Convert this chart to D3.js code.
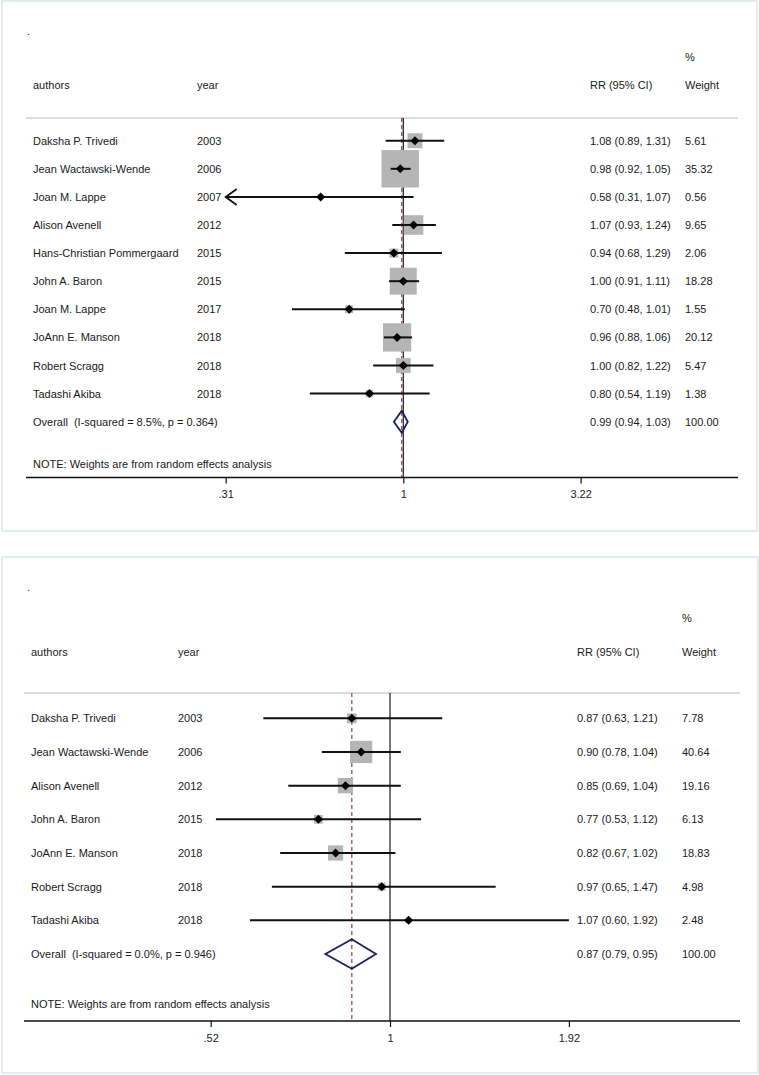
<!DOCTYPE html>
<html>
<head>
<meta charset="utf-8">
<script src="https://cdn.jsdelivr.net/npm/d3@7/dist/d3.min.js"></script>
<style>
  html, body { margin: 0; padding: 0; background: #ffffff; }
  svg { display: block; }
  text { font-family: "Liberation Sans", Arial, sans-serif; font-size: 11px; fill: #1a1a1a; white-space: pre; }
</style>
</head>
<body>
<svg id="chart" width="759" height="1075"></svg>
<script>
// ---------- Panel 1 data ----------
const authors1 = ["Daksha P. Trivedi", "Jean Wactawski-Wende", "Joan M. Lappe", "Alison Avenell",
  "Hans-Christian Pommergaard", "John A. Baron", "Joan M. Lappe", "JoAnn E. Manson", "Robert Scragg", "Tadashi Akiba"];
const years1 = ["2003", "2006", "2007", "2012", "2015", "2015", "2017", "2018", "2018", "2018"];
const rr1 = [1.08, 0.98, 0.58, 1.07, 0.94, 1.00, 0.70, 0.96, 1.00, 0.80];
const lo1 = [0.89, 0.92, 0.31, 0.93, 0.68, 0.91, 0.48, 0.88, 0.82, 0.54];
const hi1 = [1.31, 1.05, 1.07, 1.24, 1.29, 1.11, 1.01, 1.06, 1.22, 1.19];
const weight1 = [5.61, 35.32, 0.56, 9.65, 2.06, 18.28, 1.55, 20.12, 5.47, 1.38];
const overall1 = { label: "Overall  (I-squared = 8.5%, p = 0.364)", rr: 0.99, lo: 0.94, hi: 1.03, weight: 100.00 };
const ticks1 = [0.31, 1, 3.22];
const tickLabels1 = [".31", "1", "3.22"];

// ---------- Panel 2 data ----------
const authors2 = ["Daksha P. Trivedi", "Jean Wactawski-Wende", "Alison Avenell", "John A. Baron",
  "JoAnn E. Manson", "Robert Scragg", "Tadashi Akiba"];
const years2 = ["2003", "2006", "2012", "2015", "2018", "2018", "2018"];
const rr2 = [0.87, 0.90, 0.85, 0.77, 0.82, 0.97, 1.07];
const lo2 = [0.63, 0.78, 0.69, 0.53, 0.67, 0.65, 0.60];
const hi2 = [1.21, 1.04, 1.04, 1.12, 1.02, 1.47, 1.92];
const weight2 = [7.78, 40.64, 19.16, 6.13, 18.83, 4.98, 2.48];
const overall2 = { label: "Overall  (I-squared = 0.0%, p = 0.946)", rr: 0.87, lo: 0.79, hi: 0.95, weight: 100.00 };
const ticks2 = [0.52, 1, 1.92];
const tickLabels2 = [".52", "1", "1.92"];

const note = "NOTE: Weights are from random effects analysis";

const svg = d3.select("#chart");

function drawPanel(cfg) {
  const g = svg.append("g");
  const L = cfg.layout;
  // frame
  g.append("rect").attr("x", L.frame[0]).attr("y", L.frame[1])
    .attr("width", L.frame[2]).attr("height", L.frame[3])
    .attr("fill", "#ffffff").attr("stroke", "#e4ecef").attr("stroke-width", 2);

  const x = d3.scaleLog().domain([cfg.ticks[0], cfg.ticks[cfg.ticks.length - 1]]).range(L.xRange);
  const nRows = cfg.authors.length + 1;
  const y = d3.scalePoint().domain(d3.range(nRows)).range(L.yRange);

  // header
  g.append("text").attr("x", L.dotX).attr("y", L.dotY).text(".");
  g.append("text").attr("x", L.weightX).attr("y", L.pctY).text("%");
  g.append("text").attr("x", L.authorX).attr("y", L.headY).text("authors");
  g.append("text").attr("x", L.yearX).attr("y", L.headY).text("year");
  g.append("text").attr("x", L.rrX).attr("y", L.headY).text("RR (95% CI)");
  g.append("text").attr("x", L.weightX).attr("y", L.headY).text("Weight");
  g.append("line").attr("x1", L.lineX[0]).attr("x2", L.lineX[1])
    .attr("y1", L.headLineY).attr("y2", L.headLineY)
    .attr("stroke", "#cfcfcf").attr("stroke-width", 1.5);

  // reference lines
  g.append("line").attr("x1", x(1)).attr("x2", x(1))
    .attr("y1", L.headLineY).attr("y2", L.axisY)
    .attr("stroke", "#1a1a1a").attr("stroke-width", 1.2);
  g.append("line").attr("x1", x(cfg.overall.rr)).attr("x2", x(cfg.overall.rr))
    .attr("y1", L.headLineY).attr("y2", L.axisY)
    .attr("stroke", "#8e3b4c").attr("stroke-width", 1.2).attr("stroke-dasharray", "4,3");

  const rows = cfg.authors.map((a, i) => ({
    author: a, year: cfg.years[i], rr: cfg.rr[i], lo: cfg.lo[i], hi: cfg.hi[i], w: cfg.weight[i], i
  }));
  const xmin = cfg.ticks[0];

  // boxes
  g.selectAll(".box").data(rows).enter().append("rect")
    .attr("x", d => x(d.rr) - L.boxK * Math.sqrt(d.w) / 2)
    .attr("y", d => y(d.i) - L.boxK * Math.sqrt(d.w) / 2)
    .attr("width", d => L.boxK * Math.sqrt(d.w))
    .attr("height", d => L.boxK * Math.sqrt(d.w))
    .attr("fill", "#b5b5b5");

  // CI lines
  g.selectAll(".ci").data(rows).enter().append("line")
    .attr("x1", d => x(Math.max(d.lo, xmin))).attr("x2", d => x(d.hi))
    .attr("y1", d => y(d.i)).attr("y2", d => y(d.i))
    .attr("stroke", "#111").attr("stroke-width", 2);

  // arrows for truncated CIs
  rows.filter(d => d.lo <= xmin).forEach(d => {
    const ax = x(xmin), ay = y(d.i);
    g.append("path")
      .attr("d", `M${ax + 11},${ay - 8} L${ax},${ay} L${ax + 11},${ay + 8}`)
      .attr("fill", "none").attr("stroke", "#111").attr("stroke-width", 1.8);
  });

  // point markers
  g.selectAll(".pt").data(rows).enter().append("path")
    .attr("transform", d => `translate(${x(d.rr)},${y(d.i)})`)
    .attr("d", "M0,-4.5 L4.5,0 L0,4.5 L-4.5,0 Z")
    .attr("fill", "#000");

  // overall diamond
  const oy = y(nRows - 1), o = cfg.overall;
  g.append("path")
    .attr("d", `M${x(o.lo)},${oy} L${x(o.rr)},${oy - L.diaH} L${x(o.hi)},${oy} L${x(o.rr)},${oy + L.diaH} Z`)
    .attr("fill", "none").attr("stroke", "#1c1f5e").attr("stroke-width", 1.8);

  // text columns
  const fmt = v => v.toFixed(2);
  rows.forEach(d => {
    const ty = y(d.i) + 4;
    g.append("text").attr("x", L.authorX).attr("y", ty).text(d.author);
    g.append("text").attr("x", L.yearX).attr("y", ty).text(d.year);
    g.append("text").attr("x", L.rrX).attr("y", ty).text(`${fmt(d.rr)} (${fmt(d.lo)}, ${fmt(d.hi)})`);
    g.append("text").attr("x", L.weightX).attr("y", ty).text(fmt(d.w));
  });
  g.append("text").attr("x", L.authorX).attr("y", oy + 4).text(o.label);
  g.append("text").attr("x", L.rrX).attr("y", oy + 4).text(`${fmt(o.rr)} (${fmt(o.lo)}, ${fmt(o.hi)})`);
  g.append("text").attr("x", L.weightX).attr("y", oy + 4).text(fmt(o.weight));

  g.append("text").attr("x", L.authorX).attr("y", L.noteY).text(note);

  // axis
  g.append("line").attr("x1", L.lineX[0]).attr("x2", L.lineX[1])
    .attr("y1", L.axisY).attr("y2", L.axisY)
    .attr("stroke", "#111").attr("stroke-width", 1.5);
  const axis = d3.axisBottom(x).tickValues(cfg.ticks)
    .tickFormat((d, i) => cfg.tickLabels[i]).tickSize(6).tickPadding(7);
  const ag = g.append("g").attr("transform", `translate(0,${L.axisY})`).call(axis);
  ag.select(".domain").remove();
  ag.selectAll(".tick line").attr("stroke", "#111").attr("stroke-width", 1.2);
  ag.selectAll(".tick text").attr("fill", "#1a1a1a")
    .style("font-family", '"Liberation Sans", Arial, sans-serif').style("font-size", "11px");
}

drawPanel({
  authors: authors1, years: years1, rr: rr1, lo: lo1, hi: hi1, weight: weight1,
  overall: overall1, ticks: ticks1, tickLabels: tickLabels1,
  layout: {
    frame: [2, 1, 755, 530],
    xRange: [225.7, 580.6], yRange: [140.7, 421.7],
    dotX: 27, dotY: 35, pctY: 61, headY: 89,
    authorX: 33, yearX: 197, rrX: 590, weightX: 685,
    headLineY: 118, lineX: [26, 738], axisY: 477.5, noteY: 468,
    boxK: 6.3, diaH: 11
  }
});

drawPanel({
  authors: authors2, years: years2, rr: rr2, lo: lo2, hi: hi2, weight: weight2,
  overall: overall2, ticks: ticks2, tickLabels: tickLabels2,
  layout: {
    frame: [2, 557, 756, 516],
    xRange: [210.7, 568.9], yRange: [718.3, 954],
    dotX: 27, dotY: 591, pctY: 622, headY: 656,
    authorX: 31, yearX: 178, rrX: 577, weightX: 682,
    headLineY: 693, lineX: [24, 740], axisY: 1021, noteY: 1008,
    boxK: 3.5, diaH: 14.7
  }
});
</script>
</body>
</html>
